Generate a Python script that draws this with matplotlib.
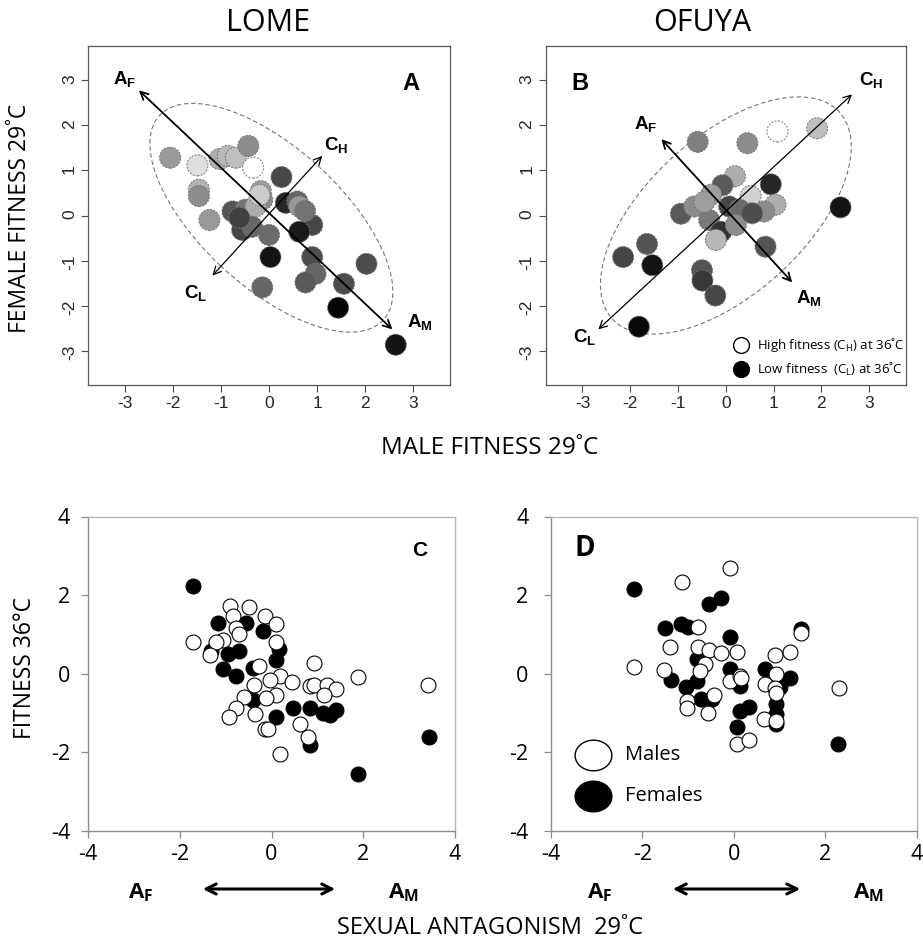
import numpy as np
import matplotlib
matplotlib.use('Agg')
import matplotlib.pyplot as plt
from matplotlib.patches import Ellipse, FancyArrowPatch
from matplotlib.path import Path

plt.rcParams['font.family'] = ['Open Sans', 'DejaVu Sans']
plt.rcParams['mathtext.fontset'] = 'custom'
plt.rcParams['mathtext.rm'] = 'Open Sans'
plt.rcParams['mathtext.bf'] = 'Open Sans:bold'
plt.rcParams['mathtext.sf'] = 'Liberation Sans:bold'
plt.rcParams['axes.unicode_minus'] = False

# ---- data: panel A (Lome), male vs female fitness at 29C, shade = fitness at 36C
lome_x = [-2.06, -1.49, -1.03, -0.86, -0.69, -0.43, -0.33, -1.46, -1.46, -1.24, 0.26, -0.76,
          -0.49, -0.17, -0.14, -0.28, -0.56, -0.35, 0.00, 0.35, 0.59, 0.63, 0.90, 0.63,
          0.03, 0.90, 0.97, 0.76, 1.56, 2.03, 1.44, -0.14, 2.64, -0.62, -0.20, 0.75]
lome_y = [1.28, 1.11, 1.25, 1.32, 1.28, 1.54, 1.06, 0.57, 0.43, -0.10, 0.85, 0.09,
          0.13, 0.54, 0.35, 0.20, -0.32, -0.25, -0.43, 0.28, 0.31, 0.20, -0.21, -0.36,
          -0.92, -0.92, -1.29, -1.48, -1.51, -1.07, -2.04, -1.59, -2.86, -0.05, 0.45, 0.10]
lome_shade = [0.60, 0.87, 0.68, 0.72, 0.75, 0.55, 1.00, 0.70, 0.55, 0.60, 0.28, 0.33,
              0.45, 0.62, 0.55, 0.68, 0.27, 0.40, 0.42, 0.15, 0.40, 0.60, 0.28, 0.10,
              0.08, 0.30, 0.40, 0.35, 0.30, 0.30, 0.02, 0.40, 0.08, 0.25, 0.80, 0.45]

# ---- panel B (Ofuya)
ofuya_x = [-0.59, 0.45, 1.08, 1.91, 0.19, -0.07, 0.94, 0.52, -0.31, -0.94, -0.66, 1.04,
           0.80, 2.40, 0.07, 0.28, -0.35, -0.10, 0.21, -0.21, 0.83, -1.65, -2.15, -1.54,
           -0.50, -0.49, -0.22, -1.82, -0.45, 0.55]
ofuya_y = [1.63, 1.60, 1.86, 1.93, 0.87, 0.67, 0.69, 0.43, 0.46, 0.04, 0.20, 0.24,
           0.09, 0.18, 0.20, 0.13, -0.10, -0.36, -0.21, -0.54, -0.69, -0.63, -0.92, -1.10,
           -1.21, -1.44, -1.77, -2.46, 0.30, 0.05]
ofuya_shade = [0.50, 0.55, 1.00, 0.75, 0.68, 0.35, 0.15, 0.82, 0.62, 0.35, 0.55, 0.68,
               0.55, 0.08, 0.28, 0.42, 0.48, 0.20, 0.55, 0.72, 0.33, 0.33, 0.27, 0.07,
               0.33, 0.22, 0.28, 0.03, 0.62, 0.30]

# ---- panel C (Lome): sexual antagonism vs fitness 36C
lome_fem_x = [-1.72, 3.43, 1.88, -1.17, -0.55, -0.19, 0.17, 0.10, -1.31, -0.95, -0.70,
              -1.06, -0.77, -0.41, -0.41, 0.10, 0.46, 0.83, 1.12, 1.41, 1.27, 0.83]
lome_fem_y = [2.22, -1.60, -2.56, 1.30, 1.30, 1.09, 0.62, 0.36, 0.58, 0.49, 0.58,
              0.11, -0.06, 0.15, -0.66, -1.09, -0.87, -0.87, -1.00, -0.92, -1.04, -1.81]
lome_mal_x = [-1.72, 3.42, 1.88, 0.93, -0.91, -0.48, -0.85, -0.78, -0.70, -0.14, 0.10, 0.10,
              -1.06, -1.20, -1.33, -0.28, 0.19, -0.04, 0.45, -0.39, 0.83, 0.93, 1.22, 1.41,
              1.15, 0.10, -0.12, -0.61, -0.77, -0.93, -0.37, -0.15, -0.07, 0.62, 0.80, 0.19]
lome_mal_y = [0.81, -0.28, -0.09, 0.28, 1.73, 1.70, 1.47, 1.17, 1.00, 1.47, 1.26, 0.81,
              0.85, 0.80, 0.47, 0.19, -0.06, -0.15, -0.22, -0.28, -0.32, -0.28, -0.28, -0.40,
              -0.55, -0.55, -0.62, -0.60, -0.87, -1.11, -1.03, -1.40, -1.40, -1.28, -1.62, -2.03]

# ---- panel D (Ofuya)
ofuya_fem_x = [-2.17, -1.51, -1.15, -1.00, -0.54, -0.27, -0.09, -0.80, -0.09, 0.68, -1.38, -1.04,
               -0.80, -0.72, -0.47, 0.13, 1.22, 0.14, 0.34, 0.07, 0.92, 0.93, 0.92, 1.47, 2.29, 1.02]
ofuya_fem_y = [2.16, 1.17, 1.26, 1.19, 1.78, 1.93, 0.94, 0.38, 0.13, 0.13, -0.16, -0.34,
               -0.19, -0.63, -0.65, -0.32, -0.12, -0.94, -0.84, -1.35, -0.78, -1.03, -1.28, 1.15, -1.78, -0.34]
ofuya_mal_x = [-2.17, -1.13, -0.08, -0.78, -1.40, -1.52, -0.78, -0.54, -0.27, 0.08, -0.62, -0.73,
               -0.09, 0.13, 0.16, -1.03, -1.01, -0.56, -0.42, 0.08, 0.34, 0.66, 0.93, 0.90,
               1.22, 0.92, 0.68, 0.90, 0.93, 1.47, 2.30]
ofuya_mal_y = [0.16, 2.33, 2.68, 1.18, 0.67, 0.09, 0.67, 0.61, 0.54, 0.55, 0.25, 0.08,
               -0.19, -0.06, -0.10, -0.69, -0.86, -0.99, -0.54, -1.78, -1.68, -1.15, -1.20, 0.48,
               0.55, 0.00, -0.27, -0.37, -0.50, 1.03, -0.36]

W, H = 923, 942
fig = plt.figure(figsize=(W / 100, H / 100), dpi=100)


def px_axes(l, t, r, b):
    return fig.add_axes([l / W, 1 - b / H, (r - l) / W, (b - t) / H])


def fig_xy(x, y):
    return x / W, 1 - y / H


def r_panel(ax, x, y, shade, ell, arr_a, arr_c, labels, letter):
    ax.set_xlim(-3.77, 3.77)
    ax.set_ylim(-3.75, 3.75)
    ax.add_patch(Ellipse(ell[0], ell[1], ell[2], angle=ell[3], fill=False,
                         ls=(0, (4, 2.5)), ec='0.45', lw=0.8, zorder=2))
    ax.scatter(x, y, s=230, c=[str(v) for v in shade], edgecolors='0.45',
               linewidths=0.7, linestyle=(0, (2, 1.5)), zorder=3)
    ax.annotate('', xy=arr_a[1], xytext=arr_a[0],
                arrowprops=dict(arrowstyle='<->', lw=1.3, color='black',
                                mutation_scale=14, shrinkA=0, shrinkB=0), zorder=4)
    ax.annotate('', xy=arr_c[1], xytext=arr_c[0],
                arrowprops=dict(arrowstyle='<->', lw=0.9, color='black',
                                mutation_scale=14, shrinkA=0, shrinkB=0), zorder=4)
    for txt, (lx, ly) in labels:
        ax.text(lx, ly, txt, ha='center', va='center', fontsize=13.5, zorder=5)
    ax.text(letter[1], letter[2], letter[0], ha='center', va='center',
            fontsize=17, fontweight='bold', family='Liberation Sans')
    ax.set_xticks(range(-3, 4))
    ax.set_yticks(range(-3, 4))
    ax.tick_params(direction='out', length=5, width=0.8, color='0.3',
                   labelsize=12.5, pad=3)
    ax.tick_params(axis='y', labelrotation=90)
    for lbl in ax.get_xticklabels() + ax.get_yticklabels():
        lbl.set_family('Liberation Sans')
        lbl.set_color('0.15')
    for sp in ax.spines.values():
        sp.set_color('0.35')
        sp.set_linewidth(0.9)


def excel_panel(ax, fx, fy, mx, my, letter, ypad):
    ax.set_xlim(-4, 4)
    ax.set_ylim(-4, 4)
    ax.scatter(fx, fy, s=115, c='black', edgecolors='black', linewidths=0.8, zorder=3)
    ax.scatter(mx, my, s=115, c='white', edgecolors='black', linewidths=0.8, zorder=4)
    ax.set_xticks([-4, -2, 0, 2, 4])
    ax.set_yticks([-4, -2, 0, 2, 4])
    ax.tick_params(direction='out', length=5, width=0.9, color='0.55', labelsize=15.5)
    ax.tick_params(axis='x', pad=4)
    ax.tick_params(axis='y', pad=ypad)
    for side in ['left', 'bottom']:
        ax.spines[side].set_color('0.55')
    for side in ['top', 'right']:
        ax.spines[side].set_color('0.72')
    for sp in ax.spines.values():
        sp.set_linewidth(1.0)
    ax.text(letter[1], letter[2], letter[0], ha='center', va='center',
            fontsize=letter[3], fontweight='bold', family=letter[4])


# ---- Panel A
axA = px_axes(88, 46, 450, 385)
r_panel(axA, lome_x, lome_y, lome_shade,
        ((0.05, -0.05), 6.5, 3.0, -45),
        ((-2.71, 2.77), (2.57, -2.52)), ((-1.18, -1.33), (1.11, 1.32)),
        [(r'$\mathsf{A}_{\mathsf{F}}$', (-3.0, 3.0)), (r'$\mathsf{A}_{\mathsf{M}}$', (3.15, -2.38)),
         (r'$\mathsf{C}_{\mathsf{H}}$', (1.39, 1.54)), (r'$\mathsf{C}_{\mathsf{L}}$', (-1.53, -1.73))],
        ('A', 2.95, 2.92))

# ---- Panel B
axB = px_axes(545.7, 46, 906, 385)
r_panel(axB, ofuya_x, ofuya_y, ofuya_shade,
        ((0.0, 0.0), 6.6, 3.4, 45),
        ((-1.35, 1.69), (1.39, -1.48)), ((-2.67, -2.52), (2.64, 2.68)),
        [(r'$\mathsf{A}_{\mathsf{F}}$', (-1.67, 2.0)), (r'$\mathsf{A}_{\mathsf{M}}$', (1.74, -1.84)),
         (r'$\mathsf{C}_{\mathsf{H}}$', (3.05, 2.97)), (r'$\mathsf{C}_{\mathsf{L}}$', (-2.95, -2.71))],
        ('B', -3.05, 2.92))
# legend of panel B
axB.scatter([0.542], [0.118], s=130, c='white', edgecolors='black', linewidths=1.0,
            transform=axB.transAxes, zorder=5)
axB.scatter([0.542], [0.047], s=130, c='black', edgecolors='black', linewidths=1.0,
            transform=axB.transAxes, zorder=5)
axB.text(0.586, 0.118, 'High fitness (C$_\\mathrm{H}$) at 36˚C', transform=axB.transAxes,
         va='center', ha='left', fontsize=9.5)
axB.text(0.586, 0.047, 'Low fitness  (C$_\\mathrm{L}$) at 36˚C', transform=axB.transAxes,
         va='center', ha='left', fontsize=9.5)

# ---- Panel C
axC = px_axes(88, 516.5, 455, 831)
excel_panel(axC, lome_fem_x, lome_fem_y, lome_mal_x, lome_mal_y,
            ('C', 3.22, 3.13, 15, 'Liberation Sans'), 8)

# ---- Panel D
axD = px_axes(550.7, 516.5, 916.7, 831)
excel_panel(axD, ofuya_fem_x, ofuya_fem_y, ofuya_mal_x, ofuya_mal_y,
            ('D', -3.25, 3.18, 20, 'Open Sans'), 11)
t = np.linspace(0, 2 * np.pi, 80)
ell_marker = Path(np.c_[1.2 * np.cos(t), np.sin(t)])
axD.scatter([0.116], [0.243], s=700, marker=ell_marker, c='white', edgecolors='black',
            linewidths=1.0, transform=axD.transAxes, zorder=5)
axD.scatter([0.116], [0.11], s=700, marker=ell_marker, c='black', edgecolors='black',
            linewidths=1.0, transform=axD.transAxes, zorder=5)
axD.text(0.203, 0.243, 'Males', transform=axD.transAxes, va='center', ha='left', fontsize=14.5)
axD.text(0.203, 0.11, 'Females', transform=axD.transAxes, va='center', ha='left', fontsize=14.5)

# ---- figure level labels
fig.text(*fig_xy(268, 23), 'LOME', ha='center', va='center', fontsize=22)
fig.text(*fig_xy(702, 23), 'OFUYA', ha='center', va='center', fontsize=22)
fig.text(*fig_xy(490, 448), 'MALE FITNESS 29˚C', ha='center', va='center', fontsize=17.5)
fig.text(*fig_xy(20, 218), 'FEMALE FITNESS 29˚C', ha='center', va='center',
         fontsize=16.5, rotation=90)
fig.text(*fig_xy(25, 668), 'FITNESS 36°C', ha='center', va='center',
         fontsize=16.5, rotation=90)
fig.text(*fig_xy(490, 928), 'SEXUAL ANTAGONISM  29˚C', ha='center', va='center', fontsize=17)

for xa, x0, x1, xm in [(141, 200, 338, 403), (600, 670, 803, 868)]:
    fig.text(*fig_xy(xa, 893), r'$\mathbf{A}_{\mathbf{F}}$', ha='center', va='center', fontsize=16)
    fig.text(*fig_xy(xm, 893), r'$\mathbf{A}_{\mathbf{M}}$', ha='center', va='center', fontsize=16)
    fig.add_artist(FancyArrowPatch(fig_xy(x0, 889), fig_xy(x1, 889), transform=fig.transFigure,
                                   arrowstyle='<->', mutation_scale=18, lw=2.2, color='black'))

fig.savefig('out.png', dpi=100)
